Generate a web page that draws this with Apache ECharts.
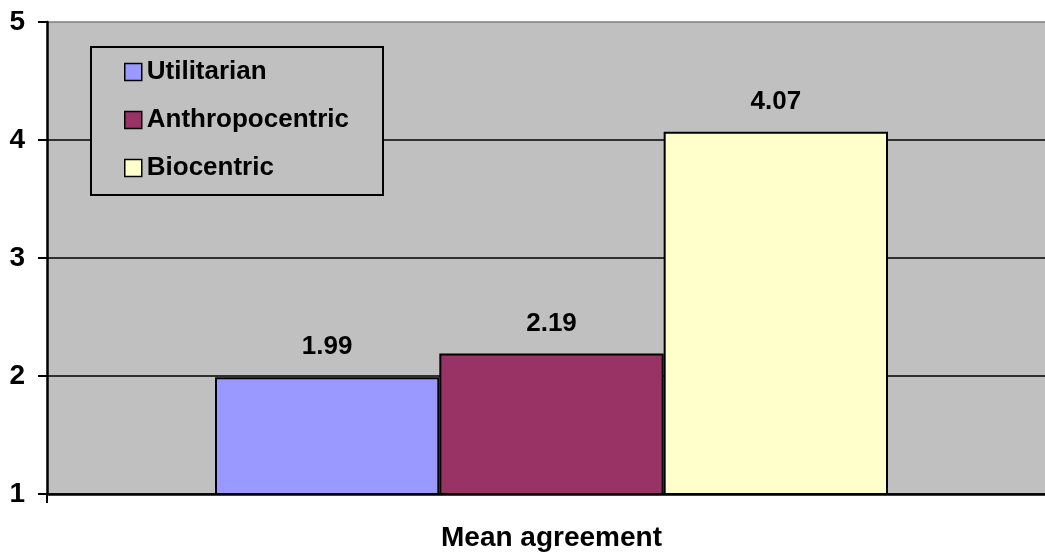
<!DOCTYPE html>
<html>
<head>
<meta charset="utf-8">
<script src="https://cdn.jsdelivr.net/npm/echarts@6/dist/echarts.min.js"></script>
<style>
html,body{margin:0;padding:0;background:#fff;}
#chart{width:1045px;height:554px;}
</style>
</head>
<body>
<div id="chart"></div>
<script>
const categories = ['Mean agreement'];
const seriesNames = ['Utilitarian', 'Anthropocentric', 'Biocentric'];
const seriesValues = [1.99, 2.19, 4.07];
const seriesColors = ['#9999FF', '#993366', '#FFFFCC'];
const yMin = 1, yMax = 5, yStep = 1;

const FONT = '"Liberation Sans", Arial, sans-serif';

const chart = echarts.init(document.getElementById('chart'));
const series = seriesNames.map((name, i) => ({
  name: name,
  type: 'bar',
  data: [seriesValues[i]],
  barGap: 0,
  barCategoryGap: '33.3%',
  itemStyle: { color: seriesColors[i], borderColor: '#000', borderWidth: 2 },
  label: {
    show: true, position: 'top', distance: 17,
    formatter: p => p.value.toFixed(2),
    fontFamily: FONT, fontWeight: 'bold', fontSize: 26, color: '#000'
  }
}));

chart.setOption({
  animation: false,
  backgroundColor: '#ffffff',
  grid: { left: 47, width: 1009, top: 22, height: 472, outerBoundsMode: 'none', containLabel: false,
          show: true, backgroundColor: '#c0c0c0', borderWidth: 0 },
  legend: {
    orient: 'vertical', left: 124, top: 59, padding: 0, itemGap: 22,
    itemWidth: 17, itemHeight: 17, icon: 'rect', z: 10,
    itemStyle: { borderColor: '#000', borderWidth: 1.5 },
    textStyle: { fontFamily: FONT, fontWeight: 'bold', fontSize: 26, lineHeight: 26, color: '#000' },
    data: seriesNames
  },
  graphic: [{
    type: 'rect', z: 5,
    shape: { x: 91, y: 47, width: 292, height: 148 },
    style: { fill: '#c0c0c0', stroke: '#000', lineWidth: 2 }
  }],
  xAxis: {
    type: 'category', data: categories,
    axisLine: { lineStyle: { color: '#000', width: 2.5 } },
    axisTick: { show: true, length: 9, lineStyle: { color: '#000', width: 2 } },
    axisLabel: { margin: 30, fontFamily: FONT, fontWeight: 'bold', fontSize: 28, color: '#000' }
  },
  yAxis: {
    type: 'value', min: yMin, max: yMax, interval: yStep,
    axisLine: { show: true, lineStyle: { color: '#000', width: 2.5 } },
    axisTick: { show: true, length: 9, lineStyle: { color: '#000', width: 2 } },
    axisLabel: { margin: 22, fontFamily: FONT, fontWeight: 'bold', fontSize: 28, color: '#000' },
    splitLine: { show: true, lineStyle: { color: ['#000', '#000', '#000', '#000', '#808080'], width: 1.5 } }
  },
  series: series
});
</script>
</body>
</html>
